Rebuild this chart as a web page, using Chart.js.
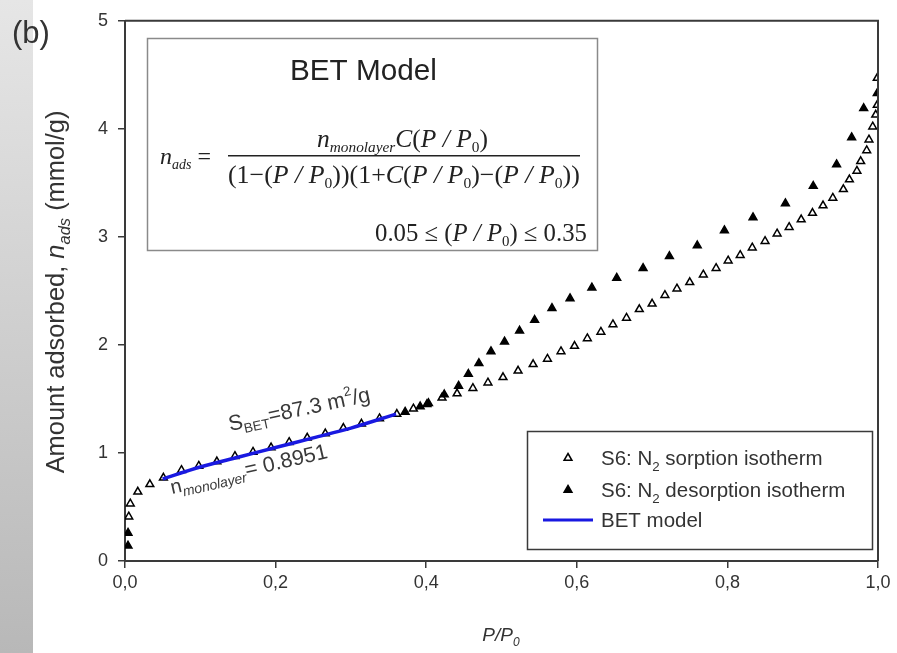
<!DOCTYPE html>
<html>
<head>
<meta charset="utf-8">
<script src="https://cdn.jsdelivr.net/npm/chart.js@4.4.1/dist/chart.umd.min.js"></script>
<style>
  html, body { margin: 0; padding: 0; background: #fff; }
  canvas { display: block; }
</style>
</head>
<body>
<canvas id="bet" width="897" height="653"></canvas>
<script>
// N2 sorption branch (open triangles): P/P0 and n_ads (mmol/g)
const sorpP = [0.005, 0.007, 0.017, 0.033, 0.051, 0.075, 0.098, 0.122, 0.146, 0.170, 0.194, 0.218, 0.242, 0.266,
  0.290, 0.314, 0.338, 0.361, 0.383, 0.401, 0.421, 0.441, 0.462, 0.482, 0.502, 0.522, 0.542, 0.561, 0.579, 0.597,
  0.614, 0.632, 0.648, 0.666, 0.683, 0.700, 0.717, 0.733, 0.750, 0.768, 0.785, 0.801, 0.817, 0.833, 0.850, 0.866,
  0.882, 0.898, 0.913, 0.927, 0.940, 0.954, 0.962, 0.972, 0.977, 0.985, 0.988, 0.993, 0.997, 0.999, 0.999];
const sorpN = [0.41, 0.53, 0.64, 0.71, 0.77, 0.84, 0.88, 0.92, 0.97, 1.01, 1.05, 1.10, 1.14, 1.18,
  1.23, 1.27, 1.32, 1.36, 1.41, 1.45, 1.51, 1.55, 1.60, 1.65, 1.70, 1.76, 1.82, 1.87, 1.94, 1.99,
  2.06, 2.12, 2.19, 2.25, 2.33, 2.38, 2.46, 2.52, 2.58, 2.65, 2.71, 2.78, 2.83, 2.90, 2.96, 3.03,
  3.09, 3.16, 3.22, 3.29, 3.36, 3.44, 3.53, 3.61, 3.70, 3.80, 3.90, 4.02, 4.13, 4.22, 4.47];

// N2 desorption branch (filled triangles)
const desP = [0.004, 0.004, 0.372, 0.392, 0.403, 0.424, 0.443, 0.456, 0.470, 0.486, 0.504, 0.524, 0.544, 0.567,
  0.591, 0.620, 0.653, 0.688, 0.723, 0.760, 0.796, 0.834, 0.877, 0.914, 0.945, 0.965, 0.981, 0.999];
const desN = [0.14, 0.26, 1.38, 1.43, 1.46, 1.54, 1.62, 1.73, 1.83, 1.94, 2.03, 2.13, 2.23, 2.34,
  2.43, 2.53, 2.62, 2.71, 2.82, 2.92, 3.06, 3.18, 3.31, 3.47, 3.67, 3.92, 4.19, 4.33];

// BET model fit over 0.05-0.35
const betP = [0.05, 0.10, 0.15, 0.20, 0.25, 0.30, 0.36];
const betN = [0.76, 0.87, 0.96, 1.05, 1.14, 1.23, 1.36];

const xMin = 0, xMax = 1, xStep = 0.2;
const yMin = 0, yMax = 5, yStep = 1;

const INK = '#333';
const SANS = '"Liberation Sans", Arial, sans-serif';
const SERIF = '"Liberation Serif", "Times New Roman", serif';

function pts(xs, ys) { return xs.map((x, i) => ({ x: x, y: ys[i] })); }

function runWidth(ctx, segs) {
  let w = 0;
  segs.forEach(s => { ctx.font = s.f; w += ctx.measureText(s.t).width; });
  return w;
}
function drawRun(ctx, segs, x, y) {
  segs.forEach(s => {
    ctx.font = s.f;
    ctx.fillText(s.t, x, y + (s.dy || 0));
    x += ctx.measureText(s.t).width;
  });
}
// pick a font size so the run spans the wanted width
function fitRun(ctx, make, base, target) {
  const w = runWidth(ctx, make(base));
  return make(base * target / w);
}

function tri(ctx, x, y, r, filled) {
  ctx.beginPath();
  ctx.moveTo(x, y - r);
  ctx.lineTo(x + r * 0.87, y + r * 0.5);
  ctx.lineTo(x - r * 0.87, y + r * 0.5);
  ctx.closePath();
  ctx.lineWidth = 1.5;
  ctx.strokeStyle = '#000';
  ctx.fillStyle = filled ? '#000' : '#fff';
  ctx.fill();
  ctx.stroke();
}

const decor = {
  id: 'decor',
  beforeDraw(chart) {
    const ctx = chart.ctx;
    ctx.save();
    ctx.fillStyle = '#fff';
    ctx.fillRect(0, 0, chart.width, chart.height);
    const g = ctx.createLinearGradient(0, 0, 0, chart.height);
    g.addColorStop(0, '#e6e6e6');
    g.addColorStop(1, '#b8b8b8');
    ctx.fillStyle = g;
    ctx.fillRect(0, 0, 33, chart.height);
    ctx.restore();
  },
  afterDraw(chart) {
    const ctx = chart.ctx;
    const a = chart.chartArea;
    ctx.save();

    // top and right frame
    ctx.strokeStyle = '#3a3a3a';
    ctx.lineWidth = 2;
    ctx.beginPath();
    ctx.moveTo(a.left, a.top);
    ctx.lineTo(a.right, a.top);
    ctx.lineTo(a.right, a.bottom);
    ctx.stroke();

    ctx.fillStyle = INK;
    ctx.textBaseline = 'alphabetic';

    // panel letter
    ctx.font = '31px ' + SANS;
    ctx.fillText('(b)', 12, 43);

    // axis titles
    const yT = fitRun(ctx, s => [
      { t: 'Amount adsorbed, ', f: s + 'px ' + SANS },
      { t: 'n', f: 'italic ' + s + 'px ' + SANS },
      { t: 'ads', f: 'italic ' + (s * 0.65) + 'px ' + SANS, dy: s * 0.25 },
      { t: ' (mmol/g)', f: s + 'px ' + SANS }
    ], 17, 363);
    ctx.save();
    ctx.translate(64, 292);
    ctx.rotate(-Math.PI / 2);
    drawRun(ctx, yT, -runWidth(ctx, yT) / 2, 0);
    ctx.restore();

    const xT = [
      { t: 'P/P', f: 'italic 19px ' + SANS },
      { t: '0', f: 'italic 12px ' + SANS, dy: 5 }
    ];
    drawRun(ctx, xT, 501 - runWidth(ctx, xT) / 2, 641);

    // BET model box
    ctx.strokeStyle = '#8a8a8a';
    ctx.lineWidth = 1.5;
    ctx.strokeRect(147.5, 38.5, 450, 212);
    ctx.fillStyle = '#222';
    const head = fitRun(ctx, s => [{ t: 'BET Model', f: s + 'px ' + SANS }], 24, 147);
    drawRun(ctx, head, 290, 80);

    const it = s => 'italic ' + s + 'px ' + SERIF;
    const rm = s => s + 'px ' + SERIF;
    const lhs = [
      { t: 'n', f: it(24) },
      { t: 'ads', f: it(14), dy: 5 },
      { t: ' = ', f: rm(24) }
    ];
    drawRun(ctx, lhs, 160, 164);
    const num = fitRun(ctx, s => [
      { t: 'n', f: it(s) },
      { t: 'monolayer', f: it(s * 0.6), dy: s * 0.2 },
      { t: 'C', f: it(s) },
      { t: '(', f: rm(s) },
      { t: 'P / P', f: it(s) },
      { t: '0', f: rm(s * 0.6), dy: s * 0.2 },
      { t: ')', f: rm(s) }
    ], 22, 171);
    drawRun(ctx, num, 317, 147);
    ctx.fillRect(228, 155, 352, 1.5);
    const den = fitRun(ctx, s => [
      { t: '(1\u2212(', f: rm(s) }, { t: 'P / P', f: it(s) }, { t: '0', f: rm(s * 0.6), dy: s * 0.2 },
      { t: '))(1+', f: rm(s) }, { t: 'C', f: it(s) }, { t: '(', f: rm(s) }, { t: 'P / P', f: it(s) },
      { t: '0', f: rm(s * 0.6), dy: s * 0.2 }, { t: ')\u2212(', f: rm(s) }, { t: 'P / P', f: it(s) },
      { t: '0', f: rm(s * 0.6), dy: s * 0.2 }, { t: '))', f: rm(s) }
    ], 22, 352);
    drawRun(ctx, den, 228, 183);
    const cond = fitRun(ctx, s => [
      { t: '0.05 \u2264 (', f: rm(s) }, { t: 'P / P', f: it(s) }, { t: '0', f: rm(s * 0.6), dy: s * 0.2 },
      { t: ') \u2264 0.35', f: rm(s) }
    ], 22, 212);
    drawRun(ctx, cond, 375, 241);

    // rotated fit annotations
    ctx.fillStyle = '#3a3a3a';
    const sb = [
      { t: 'S', f: '21.5px ' + SANS },
      { t: 'BET', f: '13.5px ' + SANS, dy: 5 },
      { t: '=87.3 m', f: '21.5px ' + SANS },
      { t: '2', f: '13.5px ' + SANS, dy: -10 },
      { t: '/g', f: '21.5px ' + SANS }
    ];
    ctx.save();
    ctx.translate(230, 431);
    ctx.rotate(-12 * Math.PI / 180);
    drawRun(ctx, sb, 0, 0);
    ctx.restore();

    const nm = [
      { t: 'n', f: '20px ' + SANS },
      { t: 'monolayer', f: 'italic 14px ' + SANS, dy: 5 },
      { t: '= 0.8951', f: '21.5px ' + SANS }
    ];
    ctx.save();
    ctx.translate(172, 494);
    ctx.rotate(-13 * Math.PI / 180);
    drawRun(ctx, nm, 0, 0);
    ctx.restore();

    // legend
    ctx.strokeStyle = '#3a3a3a';
    ctx.lineWidth = 1.5;
    ctx.fillStyle = '#fff';
    ctx.fillRect(527, 431, 345, 118);
    ctx.strokeRect(527.5, 431.5, 345, 118);
    tri(ctx, 568, 458, 4.5, false);
    tri(ctx, 568, 490, 4.5, true);
    ctx.strokeStyle = 'rgb(25,25,225)';
    ctx.lineWidth = 3;
    ctx.beginPath();
    ctx.moveTo(543, 520);
    ctx.lineTo(593, 520);
    ctx.stroke();
    ctx.fillStyle = INK;
    const lgSize = 20.5;
    const lg = (word) => [
      { t: 'S6: N', f: lgSize + 'px ' + SANS },
      { t: '2', f: (lgSize * 0.65) + 'px ' + SANS, dy: 6 },
      { t: ' ' + word, f: lgSize + 'px ' + SANS }
    ];
    drawRun(ctx, lg('sorption isotherm'), 601, 465);
    drawRun(ctx, lg('desorption isotherm'), 601, 497);
    drawRun(ctx, [{ t: 'BET model', f: lgSize + 'px ' + SANS }], 601, 527);

    ctx.restore();
  }
};

new Chart(document.getElementById('bet').getContext('2d'), {
  type: 'scatter',
  data: {
    datasets: [
      {
        label: 'BET model',
        data: pts(betP, betN),
        showLine: true,
        borderColor: 'rgb(25,25,225)',
        borderWidth: 3.5,
        pointRadius: 0,
        tension: 0.3,
        order: 0
      },
      {
        label: 'S6: N2 desorption isotherm',
        data: pts(desP, desN),
        pointStyle: 'triangle',
        pointRadius: 4.5,
        backgroundColor: '#000',
        borderColor: '#000',
        borderWidth: 1.5,
        order: 1
      },
      {
        label: 'S6: N2 sorption isotherm',
        data: pts(sorpP, sorpN),
        pointStyle: 'triangle',
        pointRadius: 4.5,
        backgroundColor: '#fff',
        borderColor: '#000',
        borderWidth: 1.5,
        order: 2
      }
    ]
  },
  options: {
    responsive: false,
    animation: false,
    layout: { padding: { left: 0, right: 19, top: 17, bottom: 0 } },
    plugins: { legend: { display: false }, tooltip: { enabled: false } },
    scales: {
      x: {
        type: 'linear',
        min: xMin, max: xMax,
        afterFit: s => { s.height = 92; },
        border: { display: true, color: '#3a3a3a', width: 2 },
        grid: { drawOnChartArea: false, drawTicks: true, tickLength: 7, color: '#3a3a3a', lineWidth: 1.5 },
        ticks: {
          stepSize: xStep,
          padding: 4,
          color: INK,
          font: { family: SANS, size: 18 },
          callback: v => v.toFixed(1).replace('.', ',')
        }
      },
      y: {
        min: yMin, max: yMax,
        afterFit: s => { s.width = 125; },
        border: { display: true, color: '#3a3a3a', width: 2 },
        grid: { drawOnChartArea: false, drawTicks: true, tickLength: 7, color: '#3a3a3a', lineWidth: 1.5 },
        ticks: {
          stepSize: yStep,
          padding: 10,
          color: INK,
          font: { family: SANS, size: 18 }
        }
      }
    }
  },
  plugins: [decor]
});
</script>
</body>
</html>
